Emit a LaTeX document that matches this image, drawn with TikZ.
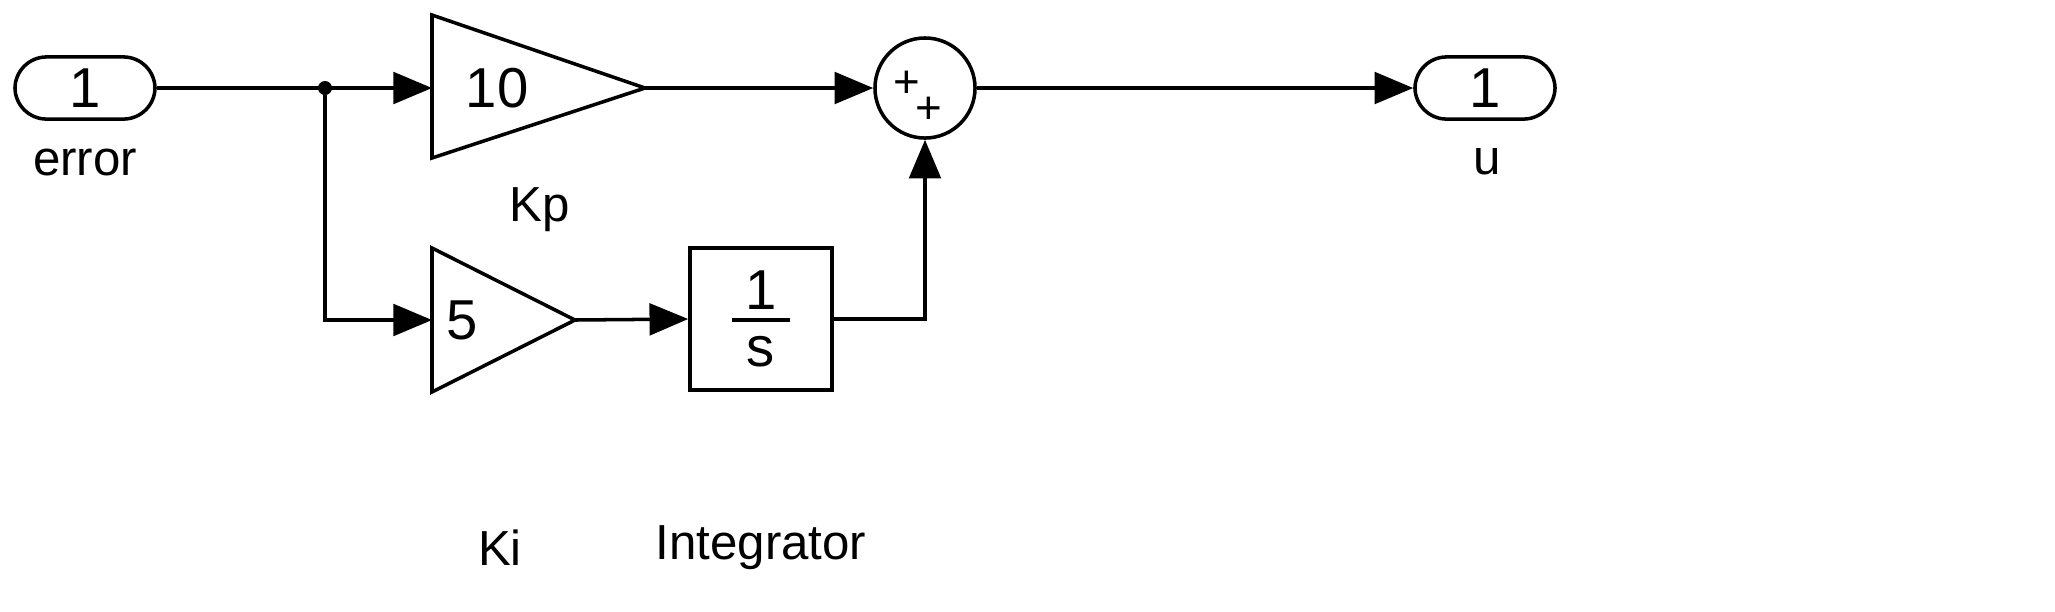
\documentclass[tikz,border=0pt]{standalone}
\usepackage{fontspec}
\setmainfont{Liberation Sans}
\usetikzlibrary{arrows.meta,shapes.geometric}
\begin{document}
\begin{tikzpicture}[x=0.01cm,y=-0.01cm,
  line width=1pt,
  sig/.style={-{Triangle[length=11pt,width=9pt]}},
  lbl/.style={font=\fontsize{14}{16}\selectfont},
  port/.style={draw,rounded corners=9pt,minimum width=1.4cm,minimum height=0.6cm,font=\fontsize{16}{18}\selectfont}]
\useasboundingbox (0,0) rectangle (2055,611);
\node[port] (in) at (85,88) {1};
\node[lbl] at (85,162) {error};
\node[port] (out) at (1485,88) {1};
\node[lbl] at (1487,162) {u};
% Kp gain
\coordinate (kpl) at (432,88);
\draw (432,15) -- (645,88) -- (432,158) -- cycle;
\coordinate (kpt) at (645,88);
\node[font=\fontsize{16}{18}\selectfont] at (497,88) {10};
\node[lbl] at (540,210) {Kp};
% Ki gain
\coordinate (kil) at (432,320);
\draw (432,248) -- (575,320) -- (432,392) -- cycle;
\coordinate (kit) at (575,320);
\node[font=\fontsize{16}{18}\selectfont] at (462,320) {5};
\node[lbl] at (500,548) {Ki};
% integrator
\node[draw,minimum width=1.42cm,minimum height=1.42cm,inner sep=0pt] (int) at (761,319) {};
\node[font=\fontsize{16}{18}\selectfont] at (761,290) {1};
\draw (732,320) -- (790,320);
\node[font=\fontsize{16}{18}\selectfont] at (761,352) {s};
\node[lbl] at (761,548) {Integrator};
% sum
\node[draw,circle,minimum size=1.0cm,inner sep=0pt] (sum) at (925,88) {};
\node[font=\fontsize{13}{14}\selectfont] at (907,84) {+};
\node[font=\fontsize{13}{14}\selectfont] at (929,110) {+};
% junction
\coordinate (j) at (325,88);
\fill (j) circle (7);
% wires
\draw (in.east) -- (j);
\draw[sig] (j) -- (kpl);
\draw[sig] (j) |- (kil);
\draw[sig] (kpt) -- (sum.west);
\draw[sig] (kit) -- (int.west);
\draw[sig] (int.east) -| (sum.south);
\draw[sig] (sum.east) -- (out.west);
\end{tikzpicture}
\end{document}
